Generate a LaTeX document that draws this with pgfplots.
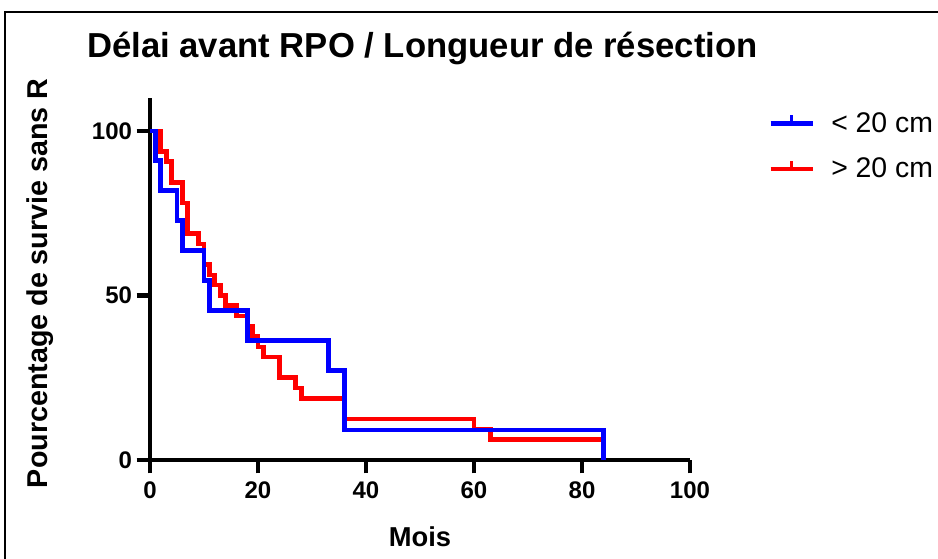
\documentclass[border=0pt]{standalone}
\usepackage{pgfplots}
\pgfplotsset{compat=1.18}
\usepackage{fontspec}
\setmainfont{Liberation Sans}
\definecolor{kmblue}{RGB}{0,0,255}
\definecolor{kmred}{RGB}{255,0,0}
\begin{document}
\begin{tikzpicture}[x=1pt,y=1pt]
\useasboundingbox (0,0) rectangle (703.5,419.25);
\draw[line width=1.5pt] (3.75,-20) -- (3.75,410.25) -- (730,410.25);
\begin{axis}[
  at={(112.5pt,74.25pt)}, anchor=south west,
  scale only axis, width=405pt, height=271.5pt,
  xmin=0, xmax=100, ymin=0, ymax=110,
  axis x line=bottom, axis y line=left,
  axis line style={line width=3.5pt, -},
  xtick={0,20,40,60,80,100}, ytick={0,50,100},
  tick style={line width=3.5pt, black},
  major tick length=10pt, tick align=outside,
  tick label style={font=\fontsize{18}{18}\selectfont\bfseries},
  xticklabel style={yshift=-3pt},
  /pgf/number format/assume math mode=true,
  clip=false,
  title={Délai avant RPO / Longueur de résection},
  title style={at={(axis description cs:-0.1167,1.1124)}, anchor=base west,
    yshift=-6pt, inner sep=0pt, font=\fontsize{26}{30}\selectfont\bfseries},
  xlabel={Mois},
  xlabel style={at={(axis description cs:0.5,-0.2127)}, anchor=center,
    font=\fontsize{20.5}{22}\selectfont\bfseries},
  ylabel={Pourcentage de survie sans R},
  ylabel style={at={(axis description cs:-0.2037,0.488)}, anchor=center,
    font=\fontsize{21.5}{22}\selectfont\bfseries},
  legend image code/.code={
    \draw[#1, line width=3.5pt] (0pt,0pt) -- (31.5pt,0pt);
    \draw[#1, line width=2.5pt] (15.75pt,0pt) -- (15.75pt,6pt);
    \path[draw=none, fill=none] (31.5pt,0pt) -- (43.5pt,0pt);
  },
  legend style={draw=none, fill=none, at={(axis description cs:1.137,0.9755)},
    anchor=north west, font=\fontsize{21.3}{21}\selectfont, row sep=13.75pt},
  legend cell align=left,
]
\addlegendimage{kmblue, line width=3.5pt}
\addlegendentry{< 20 cm}
\addlegendimage{kmred, line width=3.5pt}
\addlegendentry{> 20 cm}
\addplot[const plot, kmred, line width=3.5pt, forget plot] coordinates {
(0,100) (2,93.75) (3,90.625) (4,84.375) (6,78.125) (7,68.75) (9,65.625)
(10,59.375) (11,56.25) (12,53.125) (13,50) (14,46.875) (16,43.75)
(18,40.625) (19,37.5) (20,34.375) (21,31.25) (24,25) (27,21.875)
(28,18.75) (36,12.5) (60,9.375) (63,6.25) (84,6.25)
};
\addplot[const plot, kmblue, line width=3.5pt, forget plot] coordinates {
(0,100) (1,90.91) (2,81.82) (5,72.73) (6,63.64) (10,54.55) (11,45.45)
(18,36.36) (33,27.27) (36,9.09) (84,0)
};
\end{axis}
\end{tikzpicture}
\end{document}
